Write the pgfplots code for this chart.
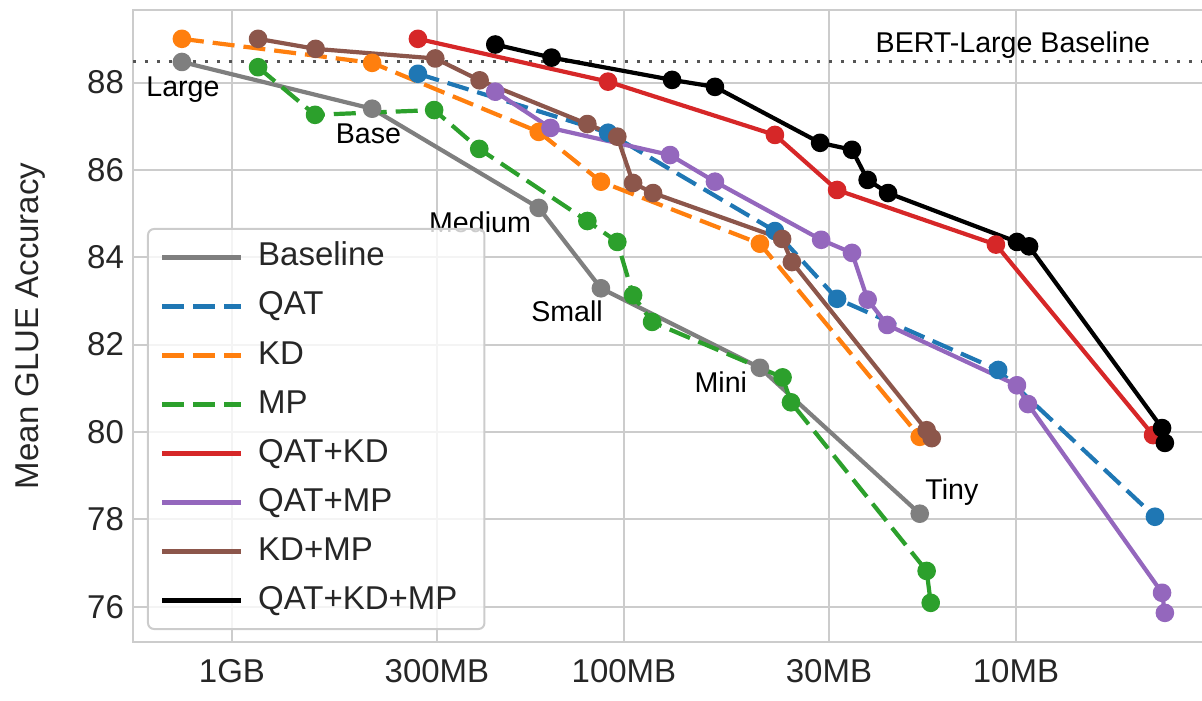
\documentclass[border=0pt]{standalone}
\usepackage{fontspec}
\setmainfont{Liberation Sans}
\usepackage{pgfplots}
\pgfplotsset{compat=1.18}
\usetikzlibrary{calc}

\definecolor{cgray}{HTML}{7F7F7F}
\definecolor{cblue}{HTML}{1F77B4}
\definecolor{corange}{HTML}{FF7F0E}
\definecolor{cgreen}{HTML}{2CA02C}
\definecolor{cred}{HTML}{D62728}
\definecolor{cpurple}{HTML}{9467BD}
\definecolor{cbrown}{HTML}{8C564B}
\definecolor{gridc}{HTML}{CCCCCC}
\definecolor{textc}{HTML}{262626}
\definecolor{dotc}{HTML}{555555}

\pgfplotsset{
  ser/.style={line width=2.1pt, line join=round, mark=*, mark size=3.6pt, mark options={solid}},
  dsh/.style={dash pattern=on 11pt off 4.5pt},
}

\begin{document}
\begin{tikzpicture}
\begin{axis}[
    name=ax,
    scale only axis,
    width=536.5pt, height=315.85pt,
    xmode=log, x dir=reverse,
    xmin=3.275, xmax=1789,
    ymin=75.20, ymax=89.66,
    xtick={1000,300,100,30,10},
    xticklabels={1GB,300MB,100MB,30MB,10MB},
    ytick={76,78,80,82,84,86,88},
    minor xtick={},
    grid=major,
    major grid style={line width=1pt, color=gridc},
    axis line style={line width=1.2pt, color=gridc},
    major tick length=0pt, minor tick length=0pt,
    tick label style={font=\fontsize{16.5}{19}\selectfont, text=textc},
    xticklabel style={yshift=-5.5pt},
    yticklabel style={xshift=-1pt},
    /pgf/number format/assume math mode=true,
    ylabel={Mean GLUE Accuracy},
    ylabel style={at={(axis description cs:-0.096,0.5)}, anchor=center,
      font=\fontsize{16.5}{19}\selectfont, text=textc},
    legend cell align=left,
    legend style={
      at={(axis description cs:0,0)}, anchor=south west, xshift=7pt, yshift=5.85pt,
      draw=gridc, line width=1pt, rounded corners=3pt,
      fill=white, fill opacity=0.8, text opacity=1,
      font=\fontsize{16.5}{19}\selectfont, text=textc,
      inner xsep=6pt, inner ysep=6.5pt,
      row sep=9pt,
      nodes={inner ysep=0pt, inner xsep=7.5pt, text height=12pt, text depth=3.5pt},
    },
    legend image code/.code={
      \draw[#1] (0pt,0pt) -- (36.5pt,0pt);
      \path (0pt,0pt) -- (39.5pt,0pt);
    },
  ]

  % BERT-Large reference line
  \addplot[dotc, line width=1.5pt, dash pattern=on 1.5pt off 4.5pt, forget plot]
    coordinates {(1789,88.47) (3.275,88.47)};

  \addplot[ser, cgray] coordinates {
      (1342,88.47) (439,87.40) (165,85.13) (114.5,83.29) (45,81.47) (17.6,78.13)
    };
  \addlegendentry{Baseline}

  \addplot[ser, dsh, cblue] coordinates {
      (335.5,88.20) (109.8,86.85) (41.2,84.60) (28.6,83.05) (11.1,81.42) (4.42,78.06)
    };
  \addlegendentry{QAT}

  \addplot[ser, dsh, corange] coordinates {
      (1342,89.00) (439,88.45) (165,86.87) (114.5,85.73) (45,84.31) (17.6,79.89)
    };
  \addlegendentry{KD}

  \addplot[ser, dsh, cgreen] coordinates {
      (858,88.35) (614,87.26) (305,87.37) (234,86.48) (124,84.83) (104,84.35)
      (94.8,83.13) (84.8,82.52) (39.4,81.25) (37.5,80.68) (16.9,76.82) (16.5,76.09)
    };
  \addlegendentry{MP}

  \addplot[ser, cred] coordinates {
      (335.5,89.00) (109.8,88.02) (41.2,86.80) (28.6,85.54) (11.25,84.29) (4.47,79.93)
    };
  \addlegendentry{QAT+KD}

  \addplot[ser, cpurple] coordinates {
      (213,87.79) (154,86.96) (76.3,86.34) (58.6,85.73) (31.4,84.40) (26.2,84.10)
      (23.9,83.03) (21.3,82.45) (9.94,81.07) (9.32,80.64) (4.24,76.32) (4.17,75.86)
    };
  \addlegendentry{QAT+MP}

  \addplot[ser, cbrown] coordinates {
      (858,89.00) (612,88.77) (303,88.55) (233.5,88.05) (124,87.05) (104,86.76)
      (94.8,85.70) (84.3,85.47) (39.5,84.42) (37.3,83.89) (16.9,80.04) (16.4,79.86)
    };
  \addlegendentry{KD+MP}

  \addplot[ser, black] coordinates {
      (213,88.87) (153,88.57) (75.4,88.06) (58.6,87.90) (31.6,86.62) (26.2,86.46)
      (23.9,85.77) (21.2,85.47) (9.94,84.35) (9.26,84.25) (4.24,80.09) (4.17,79.75)
    };
  \addlegendentry{QAT+KD+MP}

  \begin{scope}[every node/.style={anchor=base, font=\fontsize{14.3}{17}\selectfont, text=black, inner sep=0pt}]
    \node at (axis cs:1334,87.673) {Large};
    \node at (axis cs:448.5,86.596) {Base};
    \node at (axis cs:233,84.558) {Medium};
    \node at (axis cs:139.7,82.520) {Small};
    \node at (axis cs:56.6,80.894) {Mini};
    \node at (axis cs:14.57,78.444) {Tiny};
    \node at (axis cs:10.18,88.680) {BERT-Large Baseline};
  \end{scope}
\end{axis}
\pgfresetboundingbox
\path[use as bounding box] ($(ax.south west)+(-66.5pt,-29.15pt)$) rectangle ($(ax.south west)+(534.5pt,320.85pt)$);
\end{tikzpicture}
\end{document}
